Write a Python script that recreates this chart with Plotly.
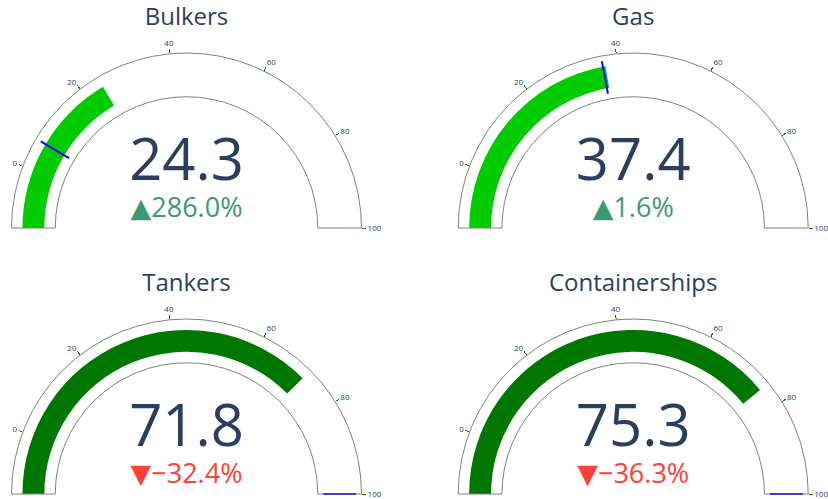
import plotly.graph_objects as go

names = ["Bulkers", "Gas", "Tankers", "Containerships"]
values = [24.3, 37.4, 71.8, 75.3]
references = [6.295, 36.81, 106.21, 118.21]
bar_colors = ["#00cc00", "#00cc00", "#007700", "#007700"]
axis_range = [-13, 100]

W, H = 828, 499
# pixel boxes of the gauges (x0, x1, ytop, ybottom)
boxes = [
    (8, 365, 53, 228),
    (454.7, 811.7, 53, 228),
    (8, 365, 319, 494),
    (454.7, 811.7, 319, 494),
]
# pixel boxes of the number + delta blocks (ytop, ybottom)
num_boxes = [(126, 226), (126, 226), (392, 492), (392, 492)]

fig = go.Figure()
for name, v, ref, col, (x0, x1, yt, yb), (nt, nb) in zip(
        names, values, references, bar_colors, boxes, num_boxes):
    fig.add_trace(go.Indicator(
        mode="gauge",
        value=v,
        title=dict(text=name, font=dict(size=24, color="#2a3f5f")),
        domain=dict(x=[x0 / W, x1 / W], y=[(H - yb) / H, (H - yt) / H]),
        gauge=dict(
            shape="angular",
            axis=dict(range=axis_range, tickvals=[0, 20, 40, 60, 80, 100],
                      tickwidth=1, tickcolor="green", ticklen=4,
                      tickfont=dict(size=8, color="#2a3f5f")),
            bar=dict(color=col, thickness=0.5),
            bgcolor="white",
            borderwidth=1,
            bordercolor="gray",
            threshold=dict(line=dict(color="blue", width=2),
                           thickness=0.75, value=ref),
        ),
    ))
    fig.add_trace(go.Indicator(
        mode="number+delta",
        value=v,
        number=dict(font=dict(size=58, color="#2a3f5f"), valueformat=".1f"),
        delta=dict(reference=ref, relative=True, valueformat=".1%",
                   font=dict(size=27, family="Open Sans, DejaVu Sans, sans-serif"),
                   increasing=dict(color="#3D9970"),
                   decreasing=dict(color="#FF4136")),
        domain=dict(x=[x0 / W, x1 / W], y=[(H - nb) / H, (H - nt) / H]),
    ))

fig.update_layout(
    width=W, height=H,
    margin=dict(l=0, r=0, t=0, b=0),
    paper_bgcolor="white",
    font=dict(family="Open Sans, verdana, arial, sans-serif", color="#2a3f5f"),
)
fig.write_html("out.html", config={"displayModeBar": False},
               post_script="document.body.style.margin='0px';")
